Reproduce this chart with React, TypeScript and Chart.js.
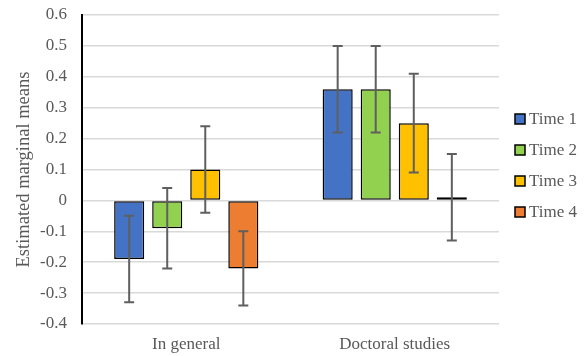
import React, { useEffect, useRef } from "react";
import { Chart, registerables } from "chart.js";

Chart.register(...registerables);

const categories = ["In general", "Doctoral studies"];
const seriesNames = ["Time 1", "Time 2", "Time 3", "Time 4"];
const seriesColors = ["#4472C4", "#92D050", "#FFC000", "#ED7D31"];

const time1 = [-0.19, 0.36];
const time2 = [-0.09, 0.36];
const time3 = [0.1, 0.25];
const time4 = [-0.22, 0.01];

const time1Low = [-0.33, 0.22];
const time1High = [-0.05, 0.5];
const time2Low = [-0.22, 0.22];
const time2High = [0.04, 0.5];
const time3Low = [-0.04, 0.09];
const time3High = [0.24, 0.41];
const time4Low = [-0.34, -0.13];
const time4High = [-0.1, 0.15];

const yTicks = [-0.4, -0.3, -0.2, -0.1, 0, 0.1, 0.2, 0.3, 0.4, 0.5, 0.6];
const yTickLabels = ["-0.4", "-0.3", "-0.2", "-0.1", "0", "0.1", "0.2", "0.3", "0.4", "0.5", "0.6"];

const FONT = "Liberation Serif";
const TEXT = "#595959";

const values = [time1, time2, time3, time4];
const lows = [time1Low, time2Low, time3Low, time4Low];
const highs = [time1High, time2High, time3High, time4High];

const errorBarPlugin = {
  id: "errorBars",
  afterDatasetsDraw(chart: any) {
    const ctx = chart.ctx;
    const y = chart.scales.y;
    ctx.save();
    ctx.strokeStyle = "#5f5f5f";
    ctx.lineWidth = 2;
    chart.data.datasets.forEach((ds: any, di: number) => {
      const meta = chart.getDatasetMeta(di);
      meta.data.forEach((bar: any, i: number) => {
        const x = bar.x;
        const yl = y.getPixelForValue(lows[di][i]);
        const yh = y.getPixelForValue(highs[di][i]);
        ctx.beginPath();
        ctx.moveTo(x, yl);
        ctx.lineTo(x, yh);
        ctx.moveTo(x - 5, yl);
        ctx.lineTo(x + 5, yl);
        ctx.moveTo(x - 5, yh);
        ctx.lineTo(x + 5, yh);
        ctx.stroke();
      });
    });
    ctx.restore();
  },
};

const legendPlugin = {
  id: "customLegend",
  afterDraw(chart: any) {
    const ctx = chart.ctx;
    ctx.save();
    ctx.font = `17px "${FONT}"`;
    ctx.textBaseline = "middle";
    ctx.textAlign = "left";
    seriesNames.forEach((name, i) => {
      const cy = 119 + i * 31;
      ctx.fillStyle = seriesColors[i];
      ctx.fillRect(515, cy - 5, 10, 10);
      ctx.strokeStyle = "#000";
      ctx.lineWidth = 1.5;
      ctx.strokeRect(515, cy - 5, 10, 10);
      ctx.fillStyle = TEXT;
      ctx.fillText(name, 529, cy + 1);
    });
    ctx.restore();
  },
};

export default function App() {
  const ref = useRef<HTMLCanvasElement>(null);
  useEffect(() => {
    if (!ref.current) return;
    const chart = new Chart(ref.current, {
      type: "bar",
      data: {
        labels: categories,
        datasets: seriesNames.map((name, i) => ({
          label: name,
          data: values[i],
          backgroundColor: seriesColors[i],
          borderColor: "#000",
          borderWidth: 1.5,
          borderSkipped: false,
          barPercentage: 0.79,
          categoryPercentage: 0.73,
        })),
      },
      options: {
        animation: false,
        responsive: false,
        font: { family: FONT },
        layout: { padding: { top: 15, right: 88, bottom: 0, left: 0 } },
        plugins: {
          legend: { display: false },
          tooltip: { enabled: false },
        },
        scales: {
          x: {
            grid: { display: false, drawTicks: false },
            border: { display: false },
            ticks: {
              color: TEXT,
              font: { family: FONT, size: 17 },
              padding: 10,
            },
            afterFit: (s: any) => {
              s.height = 32;
              s.paddingLeft = 0;
              s.paddingRight = 0;
            },
          },
          y: {
            min: -0.4,
            max: 0.6,
            afterBuildTicks: (s: any) => {
              s.ticks = yTicks.map((v) => ({ value: v }));
            },
            grid: { color: "#d9d9d9", lineWidth: 1.5, drawTicks: false },
            border: { display: true, color: "#000", width: 2 },
            ticks: {
              color: TEXT,
              font: { family: FONT, size: 17 },
              padding: 15,
              callback: (v: any) => {
                const idx = yTicks.findIndex((t) => Math.abs(t - v) < 1e-9);
                return idx >= 0 ? yTickLabels[idx] : "";
              },
            },
            title: {
              display: true,
              text: "Estimated marginal means",
              color: TEXT,
              font: { family: FONT, size: 18.5 },
              padding: { top: 13, bottom: 0 },
            },
            afterFit: (s: any) => {
              s.width = 82;
              s.paddingTop = 0;
              s.paddingBottom = 0;
            },
          },
        },
      },
      plugins: [errorBarPlugin, legendPlugin],
    });
    return () => chart.destroy();
  }, []);
  return (
    <div style={{ position: "fixed", left: 0, top: 0, width: 587, height: 356, background: "#fff" }}>
      <canvas ref={ref} width={587} height={356} />
    </div>
  );
}
